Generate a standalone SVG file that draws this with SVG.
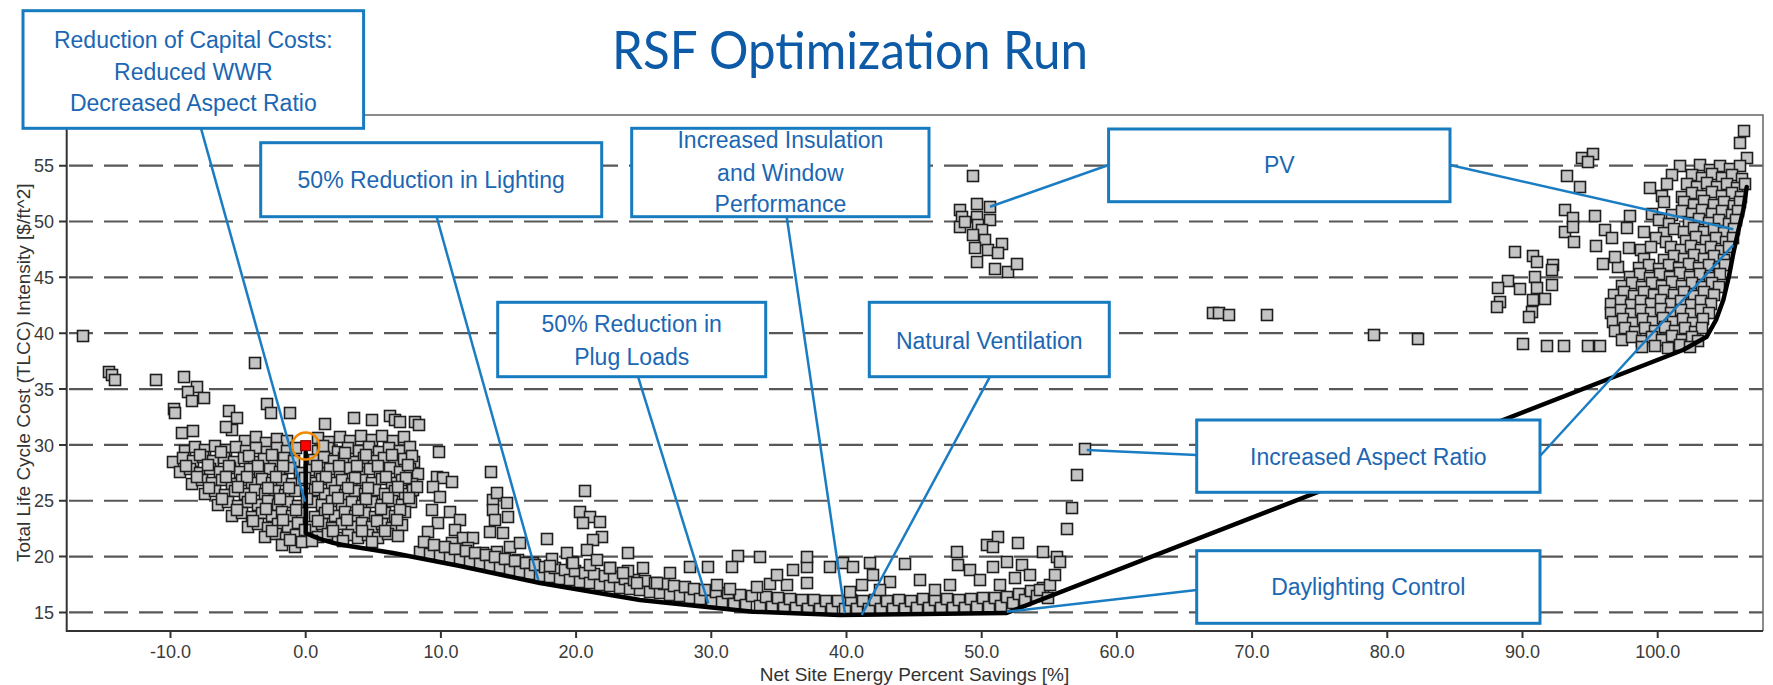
<svg xmlns="http://www.w3.org/2000/svg" width="1773" height="685" viewBox="0 0 1773 685">
<style>
.grid{stroke:#585858;stroke-width:2.2;stroke-dasharray:24 11;fill:none}
.ax{stroke:#333;stroke-width:2;fill:none}
.fr{stroke:#666;stroke-width:1.5;fill:none}
.tl{font-family:"Liberation Sans",Arial,sans-serif;font-size:18px;fill:#3a3a3a}
.at{font-family:"Liberation Sans",Arial,sans-serif;font-size:19px;fill:#333;text-anchor:middle}
.sq{fill:#c4c4c4;stroke:#1e1e1e;stroke-width:1.6}
.ld{stroke:#1a7dc3;stroke-width:2.5;fill:none}
.bx{fill:#fff;stroke:#177bc0;stroke-width:3}
.bt{font-family:"Liberation Sans",Arial,sans-serif;font-size:23px;fill:#1b67b3;text-anchor:middle}
</style>
<defs>
<rect id="q" x="-5.5" y="-5.5" width="11" height="11"/>
</defs>
<rect width="1773" height="685" fill="#fff"/>
<text x="612" y="69" font-family="Lato,'Open Sans',sans-serif" font-size="53" fill="#0d5aa7" textLength="476" lengthAdjust="spacingAndGlyphs">RSF Optimization Run</text>

<g id="grid">
<path class="grid" d="M69 165.65H1763M69 221.5H1763M69 277.35H1763M69 333.2H1763M69 389.05H1763M69 444.9H1763M69 500.75H1763M69 556.6H1763M69 612.45H1763"/>
</g>
<g id="axes">
<path class="fr" d="M66.7 115H1763V631"/>
<path class="ax" d="M66.7 115V631H1763"/>
<path class="ax" d="M59 165.65H67M59 221.5H67M59 277.35H67M59 333.2H67M59 389.05H67M59 444.9H67M59 500.75H67M59 556.6H67M59 612.45H67"/>
<path class="ax" d="M170.5 631V638M305.7 631V638M440.9 631V638M576.1 631V638M711.3 631V638M846.5 631V638M981.7 631V638M1116.9 631V638M1252.1 631V638M1387.3 631V638M1522.5 631V638M1657.7 631V638"/>
<g class="tl" text-anchor="end">
<text x="54" y="172">55</text><text x="54" y="228">50</text><text x="54" y="284">45</text><text x="54" y="340">40</text><text x="54" y="395.5">35</text><text x="54" y="451.5">30</text><text x="54" y="507">25</text><text x="54" y="563">20</text><text x="54" y="619">15</text>
</g>
<g class="tl" text-anchor="middle">
<text x="170.5" y="658">-10.0</text><text x="305.7" y="658">0.0</text><text x="440.9" y="658">10.0</text><text x="576.1" y="658">20.0</text><text x="711.3" y="658">30.0</text><text x="846.5" y="658">40.0</text><text x="981.7" y="658">50.0</text><text x="1116.9" y="658">60.0</text><text x="1252.1" y="658">70.0</text><text x="1387.3" y="658">80.0</text><text x="1522.5" y="658">90.0</text><text x="1657.7" y="658">100.0</text>
</g>
<text class="at" x="914.5" y="681">Net Site Energy Percent Savings [%]</text>
<text class="at" transform="translate(30 372.7) rotate(-90)">Total Life Cycle Cost (TLCC) Intensity [$/ft^2]</text>
</g>

<g id="data" class="sq">
<use href="#q" x="83" y="336"/><use href="#q" x="109" y="372"/><use href="#q" x="112" y="375"/><use href="#q" x="115" y="380"/><use href="#q" x="156" y="380"/><use href="#q" x="184" y="377"/><use href="#q" x="197" y="387"/><use href="#q" x="188" y="392"/><use href="#q" x="192" y="401"/><use href="#q" x="204" y="398"/><use href="#q" x="174" y="409"/><use href="#q" x="175" y="413"/><use href="#q" x="255" y="363"/><use href="#q" x="267" y="404"/><use href="#q" x="271" y="413"/><use href="#q" x="290" y="413"/><use href="#q" x="229" y="411"/><use href="#q" x="237" y="418"/><use href="#q" x="232" y="430"/><use href="#q" x="226" y="427"/><use href="#q" x="182" y="433"/><use href="#q" x="193" y="431"/><use href="#q" x="325" y="424"/><use href="#q" x="354" y="418"/><use href="#q" x="372" y="420"/><use href="#q" x="390" y="416"/><use href="#q" x="395" y="420"/><use href="#q" x="400" y="422"/><use href="#q" x="415" y="422"/><use href="#q" x="419" y="425"/><use href="#q" x="439" y="452"/><use href="#q" x="491" y="472"/><use href="#q" x="547" y="539"/>
<use href="#q" x="245" y="441"/><use href="#q" x="256" y="437"/><use href="#q" x="266" y="443"/><use href="#q" x="277" y="439"/><use href="#q" x="287" y="441"/><use href="#q" x="318" y="438"/><use href="#q" x="329" y="442"/><use href="#q" x="340" y="437"/><use href="#q" x="350" y="441"/><use href="#q" x="361" y="436"/><use href="#q" x="372" y="440"/><use href="#q" x="382" y="436"/><use href="#q" x="393" y="441"/><use href="#q" x="404" y="437"/>
<use href="#q" x="185" y="451"/><use href="#q" x="195" y="447"/><use href="#q" x="205" y="450"/><use href="#q" x="215" y="446"/><use href="#q" x="226" y="450"/><use href="#q" x="236" y="447"/><use href="#q" x="246" y="451"/><use href="#q" x="256" y="448"/><use href="#q" x="267" y="452"/><use href="#q" x="277" y="448"/><use href="#q" x="287" y="451"/><use href="#q" x="318" y="451"/><use href="#q" x="328" y="448"/><use href="#q" x="338" y="452"/><use href="#q" x="348" y="448"/><use href="#q" x="359" y="451"/><use href="#q" x="369" y="447"/><use href="#q" x="379" y="452"/><use href="#q" x="389" y="448"/><use href="#q" x="400" y="451"/><use href="#q" x="410" y="447"/>
<use href="#q" x="173" y="462"/><use href="#q" x="183" y="458"/><use href="#q" x="193" y="461"/><use href="#q" x="203" y="457"/><use href="#q" x="213" y="461"/><use href="#q" x="224" y="458"/><use href="#q" x="234" y="462"/><use href="#q" x="244" y="458"/><use href="#q" x="254" y="462"/><use href="#q" x="264" y="459"/><use href="#q" x="274" y="462"/><use href="#q" x="284" y="458"/><use href="#q" x="294" y="461"/><use href="#q" x="314" y="460"/><use href="#q" x="324" y="457"/><use href="#q" x="334" y="461"/><use href="#q" x="344" y="458"/><use href="#q" x="354" y="462"/><use href="#q" x="364" y="458"/><use href="#q" x="374" y="461"/><use href="#q" x="384" y="458"/><use href="#q" x="394" y="462"/><use href="#q" x="404" y="459"/><use href="#q" x="414" y="462"/>
<use href="#q" x="180" y="472"/><use href="#q" x="190" y="469"/><use href="#q" x="200" y="473"/><use href="#q" x="210" y="469"/><use href="#q" x="220" y="472"/><use href="#q" x="230" y="468"/><use href="#q" x="240" y="472"/><use href="#q" x="250" y="469"/><use href="#q" x="260" y="473"/><use href="#q" x="270" y="469"/><use href="#q" x="280" y="472"/><use href="#q" x="290" y="468"/><use href="#q" x="300" y="473"/><use href="#q" x="310" y="470"/><use href="#q" x="320" y="473"/><use href="#q" x="330" y="469"/><use href="#q" x="340" y="472"/><use href="#q" x="350" y="468"/><use href="#q" x="360" y="473"/><use href="#q" x="370" y="469"/><use href="#q" x="380" y="472"/><use href="#q" x="390" y="468"/><use href="#q" x="400" y="472"/><use href="#q" x="410" y="469"/><use href="#q" x="418" y="474"/>
<use href="#q" x="192" y="484"/><use href="#q" x="202" y="480"/><use href="#q" x="212" y="483"/><use href="#q" x="222" y="480"/><use href="#q" x="232" y="484"/><use href="#q" x="242" y="480"/><use href="#q" x="252" y="483"/><use href="#q" x="262" y="479"/><use href="#q" x="272" y="483"/><use href="#q" x="282" y="480"/><use href="#q" x="292" y="484"/><use href="#q" x="302" y="480"/><use href="#q" x="312" y="483"/><use href="#q" x="322" y="479"/><use href="#q" x="332" y="483"/><use href="#q" x="342" y="480"/><use href="#q" x="352" y="484"/><use href="#q" x="362" y="480"/><use href="#q" x="372" y="483"/><use href="#q" x="382" y="479"/><use href="#q" x="392" y="483"/><use href="#q" x="402" y="480"/><use href="#q" x="412" y="484"/>
<use href="#q" x="205" y="494"/><use href="#q" x="215" y="491"/><use href="#q" x="225" y="495"/><use href="#q" x="235" y="491"/><use href="#q" x="245" y="494"/><use href="#q" x="255" y="490"/><use href="#q" x="265" y="494"/><use href="#q" x="275" y="491"/><use href="#q" x="285" y="495"/><use href="#q" x="295" y="491"/><use href="#q" x="315" y="490"/><use href="#q" x="325" y="494"/><use href="#q" x="335" y="491"/><use href="#q" x="345" y="495"/><use href="#q" x="355" y="491"/><use href="#q" x="365" y="494"/><use href="#q" x="375" y="490"/><use href="#q" x="385" y="494"/><use href="#q" x="395" y="491"/><use href="#q" x="405" y="494"/><use href="#q" x="413" y="490"/>
<use href="#q" x="218" y="505"/><use href="#q" x="228" y="502"/><use href="#q" x="238" y="506"/><use href="#q" x="248" y="502"/><use href="#q" x="258" y="505"/><use href="#q" x="268" y="501"/><use href="#q" x="278" y="505"/><use href="#q" x="288" y="502"/><use href="#q" x="298" y="506"/><use href="#q" x="312" y="502"/><use href="#q" x="322" y="505"/><use href="#q" x="332" y="501"/><use href="#q" x="342" y="505"/><use href="#q" x="352" y="502"/><use href="#q" x="362" y="506"/><use href="#q" x="372" y="502"/><use href="#q" x="382" y="505"/><use href="#q" x="392" y="501"/><use href="#q" x="402" y="505"/><use href="#q" x="411" y="502"/>
<use href="#q" x="232" y="516"/><use href="#q" x="242" y="513"/><use href="#q" x="252" y="517"/><use href="#q" x="262" y="513"/><use href="#q" x="272" y="516"/><use href="#q" x="282" y="512"/><use href="#q" x="292" y="516"/><use href="#q" x="302" y="513"/><use href="#q" x="315" y="517"/><use href="#q" x="325" y="513"/><use href="#q" x="335" y="516"/><use href="#q" x="345" y="512"/><use href="#q" x="355" y="516"/><use href="#q" x="365" y="513"/><use href="#q" x="375" y="517"/><use href="#q" x="385" y="513"/><use href="#q" x="395" y="516"/><use href="#q" x="405" y="512"/>
<use href="#q" x="248" y="527"/><use href="#q" x="258" y="524"/><use href="#q" x="268" y="528"/><use href="#q" x="278" y="524"/><use href="#q" x="288" y="527"/><use href="#q" x="298" y="523"/><use href="#q" x="312" y="527"/><use href="#q" x="322" y="524"/><use href="#q" x="332" y="528"/><use href="#q" x="342" y="524"/><use href="#q" x="352" y="527"/><use href="#q" x="362" y="523"/><use href="#q" x="372" y="527"/><use href="#q" x="382" y="524"/><use href="#q" x="392" y="528"/><use href="#q" x="402" y="525"/>
<use href="#q" x="265" y="537"/><use href="#q" x="276" y="534"/><use href="#q" x="286" y="538"/><use href="#q" x="296" y="535"/><use href="#q" x="318" y="537"/><use href="#q" x="328" y="534"/><use href="#q" x="338" y="538"/><use href="#q" x="348" y="535"/><use href="#q" x="358" y="538"/><use href="#q" x="368" y="535"/><use href="#q" x="378" y="538"/><use href="#q" x="388" y="534"/><use href="#q" x="398" y="536"/><use href="#q" x="282" y="545"/><use href="#q" x="295" y="547"/><use href="#q" x="302" y="542"/>
<use href="#q" x="200" y="455"/><use href="#q" x="221" y="452"/><use href="#q" x="249" y="456"/><use href="#q" x="272" y="455"/><use href="#q" x="296" y="448"/><use href="#q" x="323" y="446"/><use href="#q" x="345" y="453"/><use href="#q" x="366" y="455"/><use href="#q" x="392" y="455"/><use href="#q" x="412" y="456"/><use href="#q" x="186" y="466"/><use href="#q" x="208" y="465"/><use href="#q" x="229" y="466"/><use href="#q" x="258" y="466"/><use href="#q" x="283" y="466"/><use href="#q" x="317" y="466"/><use href="#q" x="339" y="466"/><use href="#q" x="357" y="466"/><use href="#q" x="378" y="466"/><use href="#q" x="408" y="465"/><use href="#q" x="197" y="477"/><use href="#q" x="226" y="477"/><use href="#q" x="247" y="477"/><use href="#q" x="276" y="477"/><use href="#q" x="305" y="478"/><use href="#q" x="326" y="477"/><use href="#q" x="355" y="478"/><use href="#q" x="386" y="477"/><use href="#q" x="406" y="478"/><use href="#q" x="209" y="488"/><use href="#q" x="238" y="487"/><use href="#q" x="268" y="488"/><use href="#q" x="289" y="488"/><use href="#q" x="318" y="487"/><use href="#q" x="348" y="488"/><use href="#q" x="368" y="488"/><use href="#q" x="398" y="487"/><use href="#q" x="417" y="487"/><use href="#q" x="222" y="499"/><use href="#q" x="251" y="498"/><use href="#q" x="280" y="499"/><use href="#q" x="307" y="499"/><use href="#q" x="338" y="498"/><use href="#q" x="366" y="499"/><use href="#q" x="388" y="498"/><use href="#q" x="409" y="498"/><use href="#q" x="237" y="510"/><use href="#q" x="266" y="509"/><use href="#q" x="296" y="510"/><use href="#q" x="328" y="509"/><use href="#q" x="358" y="510"/><use href="#q" x="381" y="509"/><use href="#q" x="400" y="510"/><use href="#q" x="253" y="521"/><use href="#q" x="283" y="520"/><use href="#q" x="318" y="521"/><use href="#q" x="347" y="520"/><use href="#q" x="377" y="521"/><use href="#q" x="397" y="520"/><use href="#q" x="272" y="531"/><use href="#q" x="305" y="530"/><use href="#q" x="333" y="531"/><use href="#q" x="362" y="531"/><use href="#q" x="385" y="531"/><use href="#q" x="290" y="540"/><use href="#q" x="312" y="541"/><use href="#q" x="343" y="541"/><use href="#q" x="372" y="542"/>
<use href="#q" x="437" y="477"/><use href="#q" x="443" y="478"/><use href="#q" x="452" y="482"/><use href="#q" x="433" y="487"/><use href="#q" x="440" y="497"/><use href="#q" x="432" y="510"/><use href="#q" x="450" y="512"/><use href="#q" x="438" y="523"/><use href="#q" x="460" y="520"/><use href="#q" x="428" y="532"/><use href="#q" x="455" y="530"/><use href="#q" x="463" y="538"/><use href="#q" x="473" y="538"/><use href="#q" x="452" y="543"/><use href="#q" x="468" y="548"/>
<use href="#q" x="493" y="500"/><use href="#q" x="497" y="493"/><use href="#q" x="507" y="503"/><use href="#q" x="493" y="510"/><use href="#q" x="508" y="517"/><use href="#q" x="495" y="520"/><use href="#q" x="490" y="532"/><use href="#q" x="503" y="533"/><use href="#q" x="483" y="553"/><use href="#q" x="497" y="552"/><use href="#q" x="510" y="547"/><use href="#q" x="520" y="543"/><use href="#q" x="518" y="560"/><use href="#q" x="522" y="568"/><use href="#q" x="533" y="563"/><use href="#q" x="477" y="560"/><use href="#q" x="470" y="557"/>
<use href="#q" x="420" y="552"/><use href="#q" x="424" y="542"/><use href="#q" x="430" y="554"/><use href="#q" x="434" y="545"/><use href="#q" x="440" y="556"/><use href="#q" x="445" y="547"/><use href="#q" x="450" y="558"/><use href="#q" x="455" y="549"/><use href="#q" x="460" y="560"/><use href="#q" x="466" y="551"/><use href="#q" x="470" y="562"/><use href="#q" x="475" y="553"/><use href="#q" x="480" y="564"/><use href="#q" x="486" y="555"/><use href="#q" x="490" y="566"/><use href="#q" x="495" y="557"/><use href="#q" x="500" y="568"/><use href="#q" x="505" y="559"/><use href="#q" x="510" y="570"/><use href="#q" x="515" y="561"/><use href="#q" x="520" y="572"/><use href="#q" x="526" y="563"/><use href="#q" x="530" y="574"/><use href="#q" x="535" y="565"/><use href="#q" x="540" y="576"/><use href="#q" x="545" y="567"/><use href="#q" x="550" y="577"/><use href="#q" x="555" y="568"/><use href="#q" x="552" y="559"/><use href="#q" x="560" y="579"/><use href="#q" x="565" y="570"/><use href="#q" x="570" y="580"/><use href="#q" x="575" y="571"/><use href="#q" x="572" y="562"/><use href="#q" x="580" y="582"/><use href="#q" x="585" y="573"/><use href="#q" x="590" y="583"/><use href="#q" x="594" y="574"/><use href="#q" x="590" y="565"/><use href="#q" x="600" y="585"/><use href="#q" x="605" y="576"/><use href="#q" x="610" y="586"/><use href="#q" x="614" y="577"/><use href="#q" x="610" y="568"/><use href="#q" x="620" y="588"/><use href="#q" x="625" y="579"/><use href="#q" x="630" y="589"/><use href="#q" x="634" y="580"/><use href="#q" x="628" y="571"/><use href="#q" x="640" y="590"/><use href="#q" x="645" y="581"/><use href="#q" x="650" y="592"/><use href="#q" x="655" y="583"/><use href="#q" x="660" y="593"/><use href="#q" x="664" y="584"/><use href="#q" x="670" y="595"/><use href="#q" x="674" y="586"/><use href="#q" x="680" y="596"/><use href="#q" x="685" y="587"/><use href="#q" x="690" y="598"/><use href="#q" x="694" y="589"/><use href="#q" x="700" y="599"/><use href="#q" x="705" y="590"/><use href="#q" x="712" y="601"/><use href="#q" x="716" y="592"/><use href="#q" x="722" y="602"/><use href="#q" x="728" y="593"/><use href="#q" x="734" y="604"/><use href="#q" x="740" y="595"/><use href="#q" x="746" y="605"/><use href="#q" x="752" y="596"/><use href="#q" x="760" y="606"/><use href="#q" x="766" y="597"/><use href="#q" x="772" y="607"/><use href="#q" x="778" y="598"/><use href="#q" x="784" y="608"/><use href="#q" x="790" y="599"/><use href="#q" x="796" y="608"/><use href="#q" x="802" y="600"/><use href="#q" x="808" y="609"/><use href="#q" x="814" y="600"/><use href="#q" x="820" y="609"/><use href="#q" x="826" y="601"/><use href="#q" x="832" y="609"/><use href="#q" x="838" y="601"/><use href="#q" x="845" y="609"/><use href="#q" x="851" y="600"/><use href="#q" x="857" y="609"/><use href="#q" x="863" y="601"/><use href="#q" x="869" y="609"/><use href="#q" x="875" y="600"/><use href="#q" x="881" y="609"/><use href="#q" x="887" y="601"/><use href="#q" x="893" y="609"/><use href="#q" x="899" y="600"/><use href="#q" x="905" y="609"/><use href="#q" x="911" y="601"/><use href="#q" x="917" y="608"/><use href="#q" x="923" y="599"/><use href="#q" x="929" y="608"/><use href="#q" x="935" y="600"/><use href="#q" x="941" y="608"/><use href="#q" x="947" y="599"/><use href="#q" x="953" y="608"/><use href="#q" x="959" y="600"/><use href="#q" x="965" y="608"/><use href="#q" x="971" y="599"/><use href="#q" x="977" y="607"/><use href="#q" x="983" y="598"/><use href="#q" x="989" y="607"/><use href="#q" x="995" y="598"/><use href="#q" x="1001" y="606"/><use href="#q" x="1007" y="597"/><use href="#q" x="1013" y="603"/><use href="#q" x="1019" y="594"/><use href="#q" x="1025" y="600"/><use href="#q" x="1031" y="591"/><use href="#q" x="1037" y="596"/><use href="#q" x="1043" y="588"/>
<use href="#q" x="585" y="491"/><use href="#q" x="580" y="512"/><use href="#q" x="590" y="517"/><use href="#q" x="600" y="522"/><use href="#q" x="583" y="523"/><use href="#q" x="602" y="537"/><use href="#q" x="593" y="540"/><use href="#q" x="587" y="550"/><use href="#q" x="567" y="553"/><use href="#q" x="628" y="553"/><use href="#q" x="610" y="568"/><use href="#q" x="643" y="568"/><use href="#q" x="550" y="566"/><use href="#q" x="573" y="563"/><use href="#q" x="597" y="560"/><use href="#q" x="623" y="573"/><use href="#q" x="637" y="583"/><use href="#q" x="657" y="583"/><use href="#q" x="670" y="573"/><use href="#q" x="690" y="567"/><use href="#q" x="708" y="567"/><use href="#q" x="738" y="556"/><use href="#q" x="732" y="567"/><use href="#q" x="760" y="557"/><use href="#q" x="717" y="585"/><use href="#q" x="730" y="589"/><use href="#q" x="757" y="587"/><use href="#q" x="770" y="584"/><use href="#q" x="787" y="585"/><use href="#q" x="777" y="575"/><use href="#q" x="793" y="570"/><use href="#q" x="807" y="567"/><use href="#q" x="807" y="557"/><use href="#q" x="807" y="583"/><use href="#q" x="830" y="567"/><use href="#q" x="843" y="563"/><use href="#q" x="853" y="567"/><use href="#q" x="870" y="563"/><use href="#q" x="873" y="575"/><use href="#q" x="905" y="564"/><use href="#q" x="890" y="582"/><use href="#q" x="920" y="580"/><use href="#q" x="850" y="592"/><use href="#q" x="862" y="585"/><use href="#q" x="880" y="590"/><use href="#q" x="935" y="590"/><use href="#q" x="950" y="585"/><use href="#q" x="957" y="552"/><use href="#q" x="987" y="545"/><use href="#q" x="998" y="537"/><use href="#q" x="993" y="547"/><use href="#q" x="1018" y="543"/><use href="#q" x="1043" y="552"/><use href="#q" x="958" y="565"/><use href="#q" x="970" y="570"/><use href="#q" x="1007" y="562"/><use href="#q" x="1022" y="565"/><use href="#q" x="993" y="567"/><use href="#q" x="980" y="580"/><use href="#q" x="1000" y="585"/><use href="#q" x="1015" y="578"/><use href="#q" x="1030" y="575"/><use href="#q" x="1040" y="590"/><use href="#q" x="1050" y="585"/>
<use href="#q" x="1057" y="557"/><use href="#q" x="1060" y="562"/><use href="#q" x="1055" y="575"/><use href="#q" x="1048" y="598"/><use href="#q" x="1067" y="529"/><use href="#q" x="1072" y="508"/><use href="#q" x="1077" y="475"/><use href="#q" x="1085" y="449"/>
<use href="#q" x="973" y="176"/><use href="#q" x="960" y="210"/><use href="#q" x="977" y="204"/><use href="#q" x="990" y="207"/><use href="#q" x="962" y="217"/><use href="#q" x="977" y="217"/><use href="#q" x="990" y="220"/><use href="#q" x="960" y="227"/><use href="#q" x="978" y="225"/><use href="#q" x="965" y="222"/><use href="#q" x="982" y="230"/><use href="#q" x="973" y="235"/><use href="#q" x="985" y="240"/><use href="#q" x="1002" y="244"/><use href="#q" x="975" y="248"/><use href="#q" x="988" y="250"/><use href="#q" x="998" y="253"/><use href="#q" x="977" y="262"/><use href="#q" x="995" y="269"/><use href="#q" x="1008" y="272"/><use href="#q" x="1017" y="264"/>
<use href="#q" x="1213" y="313"/><use href="#q" x="1219" y="313"/><use href="#q" x="1229" y="315"/><use href="#q" x="1267" y="315"/><use href="#q" x="1374" y="335"/><use href="#q" x="1418" y="339"/><use href="#q" x="1523" y="344"/><use href="#q" x="1547" y="346"/><use href="#q" x="1564" y="346"/><use href="#q" x="1588" y="346"/><use href="#q" x="1600" y="346"/>
<use href="#q" x="1515" y="252"/><use href="#q" x="1533" y="256"/><use href="#q" x="1537" y="262"/><use href="#q" x="1553" y="265"/><use href="#q" x="1552" y="270"/><use href="#q" x="1535" y="277"/><use href="#q" x="1508" y="281"/><use href="#q" x="1498" y="288"/><use href="#q" x="1520" y="289"/><use href="#q" x="1537" y="288"/><use href="#q" x="1552" y="285"/><use href="#q" x="1500" y="302"/><use href="#q" x="1497" y="307"/><use href="#q" x="1533" y="300"/><use href="#q" x="1545" y="299"/><use href="#q" x="1532" y="312"/><use href="#q" x="1529" y="317"/>
<use href="#q" x="1582" y="158"/><use href="#q" x="1593" y="154"/><use href="#q" x="1588" y="162"/><use href="#q" x="1567" y="176"/><use href="#q" x="1580" y="187"/><use href="#q" x="1565" y="210"/><use href="#q" x="1573" y="218"/><use href="#q" x="1565" y="232"/><use href="#q" x="1573" y="227"/><use href="#q" x="1574" y="242"/><use href="#q" x="1595" y="216"/><use href="#q" x="1605" y="230"/><use href="#q" x="1612" y="238"/><use href="#q" x="1596" y="246"/><use href="#q" x="1603" y="264"/><use href="#q" x="1618" y="267"/><use href="#q" x="1615" y="257"/><use href="#q" x="1650" y="188"/><use href="#q" x="1630" y="216"/><use href="#q" x="1627" y="228"/><use href="#q" x="1629" y="248"/><use href="#q" x="1744" y="131"/><use href="#q" x="1740" y="143"/><use href="#q" x="1747" y="158"/>
<use href="#q" x="1680" y="166"/><use href="#q" x="1700" y="165"/><use href="#q" x="1710" y="170"/><use href="#q" x="1720" y="166"/><use href="#q" x="1730" y="169"/><use href="#q" x="1740" y="166"/>
<use href="#q" x="1672" y="175"/><use href="#q" x="1692" y="175"/><use href="#q" x="1702" y="178"/><use href="#q" x="1712" y="174"/><use href="#q" x="1722" y="178"/><use href="#q" x="1732" y="175"/><use href="#q" x="1742" y="179"/>
<use href="#q" x="1667" y="184"/><use href="#q" x="1687" y="184"/><use href="#q" x="1697" y="187"/><use href="#q" x="1707" y="183"/><use href="#q" x="1717" y="187"/><use href="#q" x="1727" y="184"/><use href="#q" x="1737" y="188"/><use href="#q" x="1745" y="184"/>
<use href="#q" x="1662" y="196"/><use href="#q" x="1682" y="197"/><use href="#q" x="1692" y="193"/><use href="#q" x="1702" y="196"/><use href="#q" x="1712" y="192"/><use href="#q" x="1722" y="196"/><use href="#q" x="1732" y="193"/><use href="#q" x="1741" y="197"/>
<use href="#q" x="1664" y="202"/><use href="#q" x="1684" y="202"/><use href="#q" x="1694" y="205"/><use href="#q" x="1704" y="201"/><use href="#q" x="1714" y="205"/><use href="#q" x="1724" y="202"/><use href="#q" x="1734" y="206"/><use href="#q" x="1740" y="202"/>
<use href="#q" x="1652" y="214"/><use href="#q" x="1672" y="215"/><use href="#q" x="1682" y="211"/><use href="#q" x="1692" y="214"/><use href="#q" x="1702" y="210"/><use href="#q" x="1712" y="214"/><use href="#q" x="1722" y="211"/><use href="#q" x="1732" y="215"/><use href="#q" x="1738" y="211"/>
<use href="#q" x="1659" y="220"/><use href="#q" x="1669" y="224"/><use href="#q" x="1689" y="223"/><use href="#q" x="1699" y="219"/><use href="#q" x="1709" y="223"/><use href="#q" x="1719" y="220"/><use href="#q" x="1729" y="224"/><use href="#q" x="1736" y="220"/>
<use href="#q" x="1644" y="232"/><use href="#q" x="1664" y="233"/><use href="#q" x="1674" y="229"/><use href="#q" x="1684" y="232"/><use href="#q" x="1694" y="228"/><use href="#q" x="1704" y="232"/><use href="#q" x="1714" y="229"/><use href="#q" x="1724" y="233"/><use href="#q" x="1734" y="229"/>
<use href="#q" x="1656" y="238"/><use href="#q" x="1666" y="242"/><use href="#q" x="1686" y="241"/><use href="#q" x="1696" y="237"/><use href="#q" x="1706" y="241"/><use href="#q" x="1716" y="238"/><use href="#q" x="1726" y="242"/><use href="#q" x="1733" y="238"/>
<use href="#q" x="1641" y="250"/><use href="#q" x="1651" y="247"/><use href="#q" x="1671" y="247"/><use href="#q" x="1681" y="250"/><use href="#q" x="1691" y="246"/><use href="#q" x="1701" y="250"/><use href="#q" x="1711" y="247"/><use href="#q" x="1721" y="251"/><use href="#q" x="1729" y="247"/>
<use href="#q" x="1644" y="259"/><use href="#q" x="1664" y="260"/><use href="#q" x="1674" y="256"/><use href="#q" x="1684" y="259"/><use href="#q" x="1694" y="255"/><use href="#q" x="1704" y="259"/><use href="#q" x="1714" y="256"/><use href="#q" x="1724" y="260"/>
<use href="#q" x="1639" y="268"/><use href="#q" x="1649" y="265"/><use href="#q" x="1659" y="269"/><use href="#q" x="1669" y="265"/><use href="#q" x="1679" y="268"/><use href="#q" x="1689" y="264"/><use href="#q" x="1699" y="268"/><use href="#q" x="1709" y="265"/><use href="#q" x="1719" y="269"/><use href="#q" x="1725" y="265"/>
<use href="#q" x="1630" y="277"/><use href="#q" x="1640" y="274"/><use href="#q" x="1650" y="278"/><use href="#q" x="1660" y="274"/><use href="#q" x="1670" y="277"/><use href="#q" x="1680" y="273"/><use href="#q" x="1690" y="277"/><use href="#q" x="1700" y="274"/><use href="#q" x="1710" y="278"/><use href="#q" x="1720" y="274"/>
<use href="#q" x="1622" y="286"/><use href="#q" x="1632" y="283"/><use href="#q" x="1642" y="287"/><use href="#q" x="1652" y="283"/><use href="#q" x="1662" y="286"/><use href="#q" x="1672" y="282"/><use href="#q" x="1682" y="286"/><use href="#q" x="1692" y="283"/><use href="#q" x="1702" y="287"/><use href="#q" x="1712" y="283"/><use href="#q" x="1719" y="287"/>
<use href="#q" x="1614" y="295"/><use href="#q" x="1624" y="292"/><use href="#q" x="1634" y="296"/><use href="#q" x="1644" y="292"/><use href="#q" x="1654" y="295"/><use href="#q" x="1664" y="291"/><use href="#q" x="1674" y="295"/><use href="#q" x="1684" y="292"/><use href="#q" x="1694" y="296"/><use href="#q" x="1704" y="292"/><use href="#q" x="1714" y="295"/>
<use href="#q" x="1611" y="304"/><use href="#q" x="1621" y="301"/><use href="#q" x="1631" y="305"/><use href="#q" x="1641" y="301"/><use href="#q" x="1651" y="304"/><use href="#q" x="1661" y="300"/><use href="#q" x="1671" y="304"/><use href="#q" x="1681" y="301"/><use href="#q" x="1691" y="305"/><use href="#q" x="1701" y="301"/><use href="#q" x="1711" y="304"/>
<use href="#q" x="1611" y="313"/><use href="#q" x="1621" y="310"/><use href="#q" x="1631" y="314"/><use href="#q" x="1641" y="310"/><use href="#q" x="1651" y="313"/><use href="#q" x="1661" y="309"/><use href="#q" x="1671" y="313"/><use href="#q" x="1681" y="310"/><use href="#q" x="1691" y="314"/><use href="#q" x="1701" y="310"/><use href="#q" x="1709" y="313"/>
<use href="#q" x="1613" y="322"/><use href="#q" x="1623" y="319"/><use href="#q" x="1633" y="323"/><use href="#q" x="1643" y="319"/><use href="#q" x="1653" y="322"/><use href="#q" x="1663" y="318"/><use href="#q" x="1673" y="322"/><use href="#q" x="1683" y="319"/><use href="#q" x="1693" y="323"/><use href="#q" x="1703" y="319"/>
<use href="#q" x="1615" y="331"/><use href="#q" x="1625" y="328"/><use href="#q" x="1635" y="332"/><use href="#q" x="1645" y="328"/><use href="#q" x="1655" y="331"/><use href="#q" x="1665" y="327"/><use href="#q" x="1675" y="331"/><use href="#q" x="1685" y="328"/><use href="#q" x="1695" y="332"/><use href="#q" x="1702" y="328"/>
<use href="#q" x="1622" y="340"/><use href="#q" x="1632" y="337"/><use href="#q" x="1642" y="341"/><use href="#q" x="1652" y="337"/><use href="#q" x="1662" y="340"/><use href="#q" x="1672" y="336"/><use href="#q" x="1682" y="340"/><use href="#q" x="1692" y="337"/><use href="#q" x="1698" y="341"/>
<use href="#q" x="1642" y="347"/><use href="#q" x="1655" y="346"/><use href="#q" x="1668" y="348"/><use href="#q" x="1680" y="345"/><use href="#q" x="1690" y="347"/>
</g>

<g id="front">
<path d="M305.7 452V533C318 539 332 543 343 545L393 553L460 566L540 583L640 600L707 607L753 611.7L840 615L1006.7 613L1683 350L1706.7 336.7L1716 320L1723.3 300L1729 276L1733.3 253.3L1738.5 230L1743.3 210L1746.7 187" fill="none" stroke="#000" stroke-width="4.5" stroke-linejoin="round" stroke-linecap="round"/>
</g>
<g id="baseline-point">
<rect x="300.7" y="440.7" width="10" height="10" fill="#f00" stroke="#700" stroke-width="1"/>
<circle cx="305.7" cy="446" r="13.5" fill="none" stroke="#f08a00" stroke-width="2.5"/>
</g>

<g id="connectors" class="ld">
<path d="M201 128.3L305 501.7"/>
<path d="M436.6 216.7L538.3 580"/>
<path d="M638 376.7L708.3 603.3"/>
<path d="M786.7 216.7L845 613.3"/>
<path d="M990 376.7L861.7 615"/>
<path d="M1108.6 165L990 206.7"/>
<path d="M1450 165L1733.3 229.3"/>
<path d="M1196.7 455L1086.7 450"/>
<path d="M1540 456L1733.3 245"/>
<path d="M1196.7 590L1006.7 611.7"/>
</g>

<g id="node-capital">
<rect class="bx" x="23" y="10.7" width="340.6" height="117.6"/>
<text class="bt" x="193.3" y="47.5">Reduction of Capital Costs:</text>
<text class="bt" x="193.3" y="79.5">Reduced WWR</text>
<text class="bt" x="193.3" y="111">Decreased Aspect Ratio</text>
</g>
<g id="node-lighting">
<rect class="bx" x="260.7" y="142.7" width="341" height="74"/>
<text class="bt" x="431.2" y="187.5">50% Reduction in Lighting</text>
</g>
<g id="node-insulation">
<rect class="bx" x="631.7" y="128.3" width="297.3" height="88.4"/>
<text class="bt" x="780.4" y="148">Increased Insulation</text>
<text class="bt" x="780.4" y="180.5">and Window</text>
<text class="bt" x="780.4" y="212">Performance</text>
</g>
<g id="node-pv">
<rect class="bx" x="1108.6" y="129" width="341.4" height="72.7"/>
<text class="bt" x="1279.3" y="173">PV</text>
</g>
<g id="node-plug">
<rect class="bx" x="497.7" y="302.3" width="268" height="74.4"/>
<text class="bt" x="631.7" y="332">50% Reduction in</text>
<text class="bt" x="631.7" y="364.5">Plug Loads</text>
</g>
<g id="node-ventilation">
<rect class="bx" x="869.3" y="302.3" width="240" height="74.4"/>
<text class="bt" x="989.3" y="348.5">Natural Ventilation</text>
</g>
<g id="node-aspect">
<rect class="bx" x="1196.7" y="420" width="343.3" height="72.3"/>
<text class="bt" x="1368.3" y="464.5">Increased Aspect Ratio</text>
</g>
<g id="node-daylighting">
<rect class="bx" x="1196.7" y="550.7" width="343.3" height="72.6"/>
<text class="bt" x="1368.3" y="595">Daylighting Control</text>
</g>
</svg>
